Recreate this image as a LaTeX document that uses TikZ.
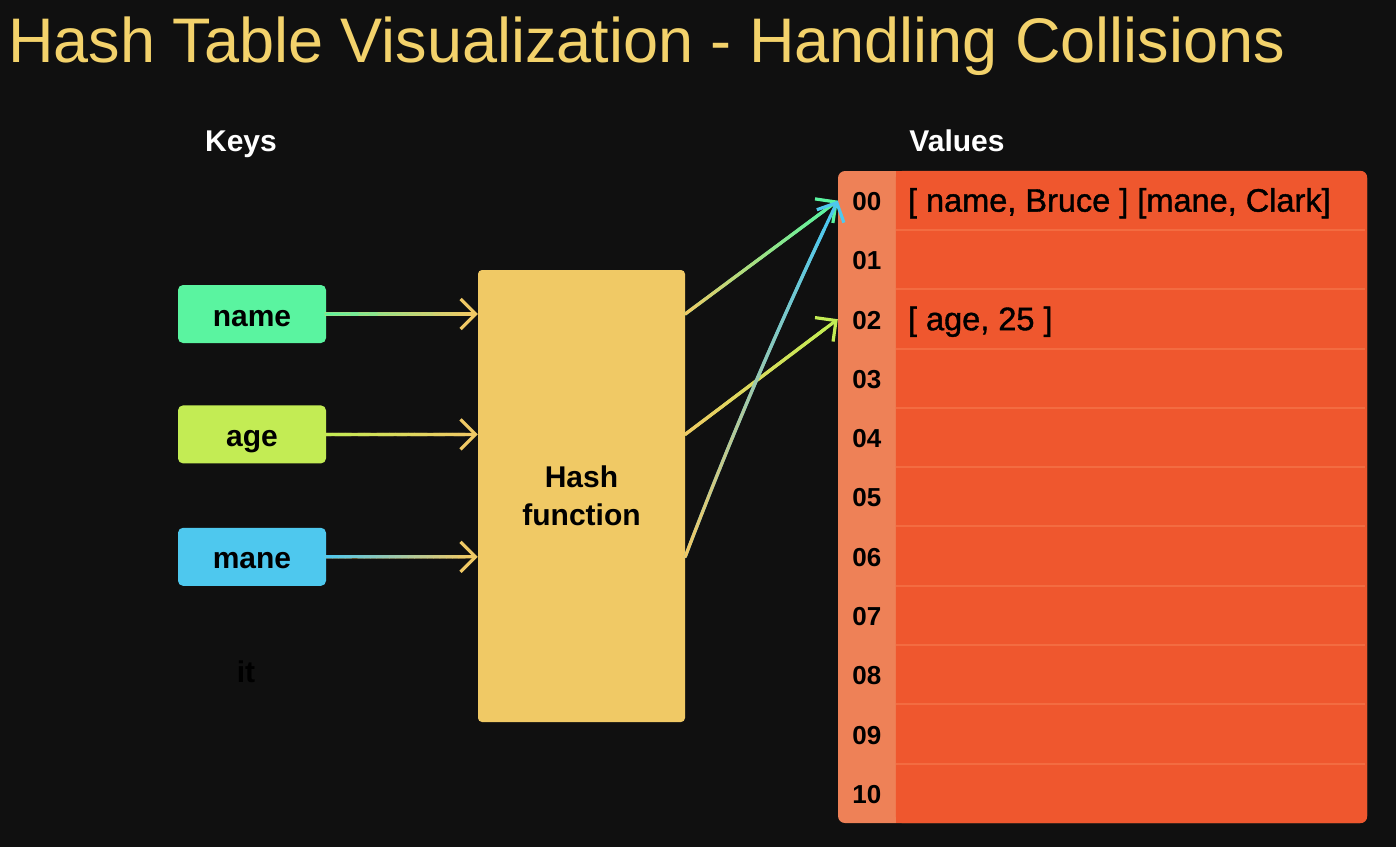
\documentclass[tikz,border=0pt]{standalone}
\usepackage{fontspec}
\setmainfont{Liberation Sans}
\newfontfamily\valfont[FakeBold=1.2]{Liberation Sans}
\usetikzlibrary{arrows.meta,positioning,calc}
\definecolor{bgdark}{HTML}{101010}
\definecolor{titleyellow}{HTML}{F3D26B}
\definecolor{namegreen}{HTML}{5AF4A0}
\definecolor{agelime}{HTML}{C3EC54}
\definecolor{manecyan}{HTML}{4EC8EE}
\definecolor{hashyellow}{HTML}{F0C965}
\definecolor{valorange}{HTML}{EF572E}
\definecolor{idxorange}{HTML}{EE8157}
\definecolor{roworange}{HTML}{F36C41}

% gradient connector: [bend] from, to, start colour, end colour
\newcommand{\gradarrow}[5][0pt]{%
  \coordinate (gA) at (#2);
  \coordinate (gB) at (#3);
  \coordinate (gC) at ($($(gA)!0.5!(gB)$)!#1!90:(gB)$);
  \draw[wire, draw=#5, -{Straight Barb[length=15pt,width=30pt]}] (gA) .. controls ($(gA)!2/3!(gC)$) and ($(gB)!2/3!(gC)$) .. (gB);
  \foreach \k in {0,...,21}{%
    \pgfmathsetmacro{\ta}{\k/24}
    \pgfmathsetmacro{\tb}{(\k+1)/24}
    \pgfmathtruncatemacro{\pc}{100-100*\k/22}
    \draw[wire, draw=#4!\pc!#5]
      ($ {(1-\ta)^2}*(gA) + {2*\ta*(1-\ta)}*(gC) + {\ta^2}*(gB) $) --
      ($ {(1-\tb)^2}*(gA) + {2*\tb*(1-\tb)}*(gC) + {\tb^2}*(gB) $);
  }
}

\begin{document}
\begin{tikzpicture}[x=1pt, y=-1pt,
  keybox/.style={rectangle, rounded corners=5pt, minimum width=148pt, minimum height=58pt, text height=24pt, text depth=0pt, font=\fontsize{30}{36}\selectfont\bfseries, text=black},
  headtext/.style={anchor=base, inner sep=0pt, font=\fontsize{30}{34}\selectfont\bfseries, text=white},
  hashbox/.style={rectangle, fill=hashyellow, rounded corners=4pt, minimum width=207pt, minimum height=452pt, align=center, font=\fontsize{30}{38}\selectfont\bfseries},
  slot/.style={rectangle, minimum width=529pt, minimum height=59.27pt, inner sep=0pt},
  idxlabel/.style={anchor=base, inner sep=0pt, font=\fontsize{26}{30}\selectfont\bfseries, text=black},
  valtext/.style={anchor=base west, inner sep=0pt, font=\fontsize{32.5}{36}\valfont, text=black},
  rowline/.style={draw=roworange, line width=2pt},
  wire/.style={line width=3.2pt, line cap=round, line join=round}]

\fill[bgdark] (0,0) rectangle (1396,847);
\useasboundingbox (0,0) rectangle (1396,847);

\node[anchor=base west, inner sep=0pt, text=titleyellow, font=\fontsize{63}{70}\selectfont] (title) at (8,62) {Hash Table Visualization - Handling Collisions};

\node[headtext] (keys) at (241,151) {Keys};
\node[headtext] (values) at (957,151) {Values};

\node[keybox, fill=namegreen] (name) at (252,314) {name};
\node[keybox, fill=agelime, below=62pt of name] (age) {age};
\node[keybox, fill=manecyan, below=64pt of age] (mane) {mane};
\node[font=\fontsize{30}{36}\selectfont\bfseries, text=black!98!bgdark] (it) at (246,672) {it};

\node[hashbox] (hash) at (581.5,496) {Hash\\function};

\node[rectangle, fill=idxorange, rounded corners=7pt, minimum width=529pt, minimum height=652pt] (tbl) at (1102.5,497) {};
\fill[valorange, rounded corners=7pt] ($(tbl.north west)+(58,0)$) rectangle (tbl.south east);
\fill[valorange] ($(tbl.north west)+(58,0)$) rectangle ($(tbl.south west)+(80,0)$);

\foreach \lbl [count=\r from 0] in {00,01,02,03,04,05,06,07,08,09,10}{
  \node[slot] (row\r) at (1102.5,{171+59.27*(\r+0.5)}) {};
  \node[idxlabel] (idx\r) at ($(row\r.west)+(29,10)$) {\lbl};
}
\foreach \r in {1,...,10}
  \draw[rowline] ($(row\r.north west)+(58,0)$) -- ($(row\r.north east)+(-2,0)$);

\node[valtext] (val0) at ($(row0.west)+(70,11)$) {[ name, Bruce ] [mane, Clark]};
\node[valtext] (val2) at ($(row2.west)+(70,11)$) {[ age, 25 ]};

\gradarrow{name.east}{hash.west |- name.east}{namegreen}{hashyellow}
\gradarrow{age.east}{hash.west |- age.east}{agelime}{hashyellow}
\gradarrow{mane.east}{hash.west |- mane.east}{manecyan}{hashyellow}

\gradarrow{hash.east |- name.east}{row0.west}{hashyellow}{namegreen}
\gradarrow{hash.east |- age.east}{row2.west}{hashyellow}{agelime}
\gradarrow[8pt]{hash.east |- mane.east}{row0.west}{hashyellow}{manecyan}

\end{tikzpicture}
\end{document}
